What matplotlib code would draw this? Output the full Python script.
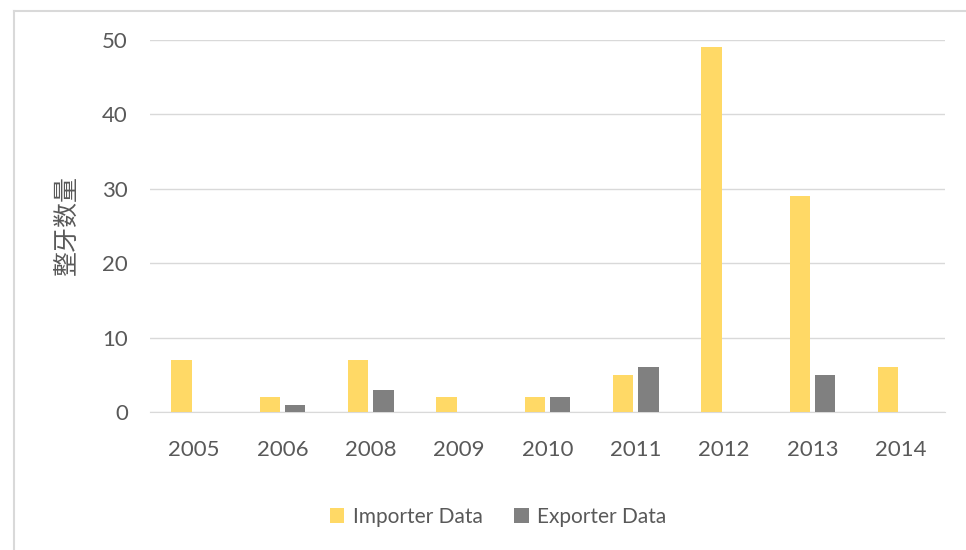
import numpy as np
import matplotlib.pyplot as plt
from matplotlib.lines import Line2D

# chart data
years = ['2005', '2006', '2008', '2009', '2010', '2011', '2012', '2013', '2014']
importer = [7, 2, 7, 2, 2, 5, 49, 29, 6]
exporter = [0, 1, 3, 0, 2, 6, 0, 5, 0]

imp_color = '#FFD966'
exp_color = '#808080'
text_color = '#595959'

plt.rcParams['font.family'] = ['Lato', 'DejaVu Sans']

fig = plt.figure(figsize=(9.66, 5.5), dpi=100)
ax = fig.add_axes([150 / 966, 1 - 412 / 550, 795 / 966, 372 / 550])

x = np.arange(len(years))
w = 0.23
ax.bar(x - 0.145, importer, w, color=imp_color, label='Importer Data', zorder=3)
ax.bar(x + 0.145, exporter, w, color=exp_color, label='Exporter Data', zorder=3)

ax.set_xlim(-0.5, len(years) - 0.5)
ax.set_ylim(0, 50)
ax.set_yticks(range(0, 51, 10))
ax.set_xticks(x)
ax.set_xticklabels(years)
ax.tick_params(length=0, labelsize=16, colors=text_color)
ax.tick_params(axis='x', pad=20)
ax.tick_params(axis='y', pad=16)
ax.grid(axis='y', color='#d9d9d9', linewidth=1, zorder=0)
for s in ['top', 'right', 'left']:
    ax.spines[s].set_visible(False)
ax.spines['bottom'].set_color('#d9d9d9')

# y axis title placed in figure pixels to match the reference
fig.text(67 / 966, 1 - 226 / 550, '整牙数量', family=['Noto Sans CJK SC', 'DejaVu Sans'],
         fontsize=18, color=text_color, rotation=90, ha='center', va='center')

fig.legend(loc='center', bbox_to_anchor=(498 / 966, 1 - 517 / 550), ncol=2,
           frameon=False, fontsize=15, labelcolor=text_color,
           handlelength=0.7, handleheight=0.7, handletextpad=0.4, columnspacing=1.5)

# chart-area border (only left and top visible in the crop)
fig.add_artist(Line2D([14 / 966, 14 / 966], [0, 1 - 11 / 550], transform=fig.transFigure,
                      color='#d9d9d9', linewidth=1.5))
fig.add_artist(Line2D([14 / 966, 1], [1 - 11 / 550, 1 - 11 / 550], transform=fig.transFigure,
                      color='#d9d9d9', linewidth=1.5))

fig.savefig('out.png', dpi=100, facecolor='white')
